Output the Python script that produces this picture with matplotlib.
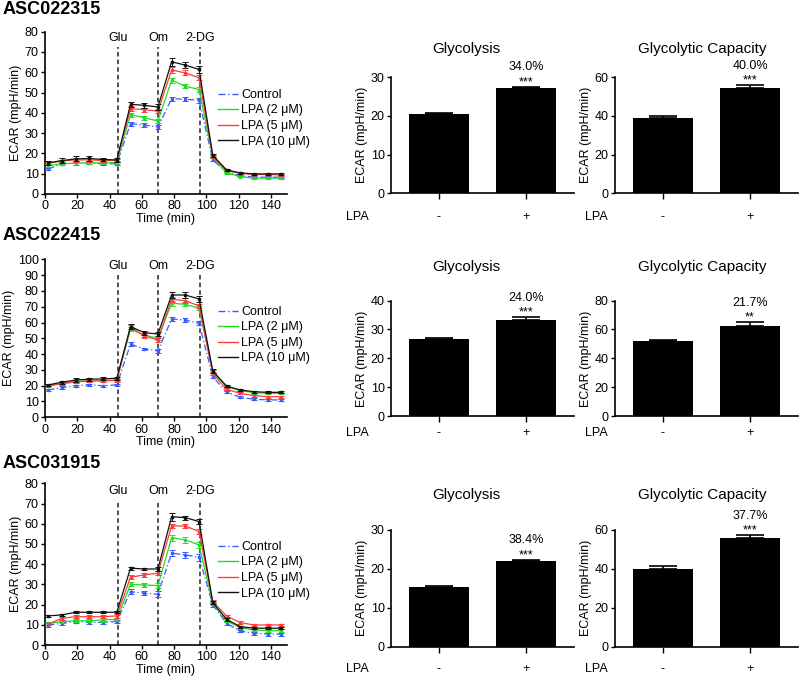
import matplotlib
matplotlib.use("Agg")
import matplotlib.pyplot as plt
from matplotlib.lines import Line2D

plt.rcParams['font.family'] = ['Liberation Sans', 'DejaVu Sans']
plt.rcParams['axes.linewidth'] = 1.2

# ---------------- data ----------------
donors = ["ASC022315", "ASC022415", "ASC031915"]
times = [2, 10.5, 19, 27.5, 36, 44.5, 53, 61.5, 70, 78.5, 87, 95.5, 104, 112.5, 121, 129.5, 138, 146.5]
series_labels = ["Control", "LPA (2 \u03bcM)", "LPA (5 \u03bcM)", "LPA (10 \u03bcM)"]
injections = ["Glu", "Om", "2-DG"]
injection_times = [45, 70, 96]

ctrl_1 = [12.4, 14.9, 15.2, 15.3, 14.9, 14.9, 34.7, 34.0, 33.0, 47.0, 46.7, 46.2, 16.8, 10.7, 9.1, 8.3, 8.3, 8.3]
lpa2_1 = [14.0, 14.9, 15.2, 15.5, 15.3, 15.5, 39.1, 37.6, 36.0, 56.1, 53.1, 51.5, 18.2, 10.4, 8.6, 7.8, 7.8, 7.8]
lpa5_1 = [15.2, 16.2, 16.8, 16.8, 16.5, 16.5, 42.1, 41.6, 40.8, 61.1, 59.7, 57.3, 18.5, 11.6, 10.2, 9.6, 9.6, 9.4]
lpa10_1 = [15.3, 16.5, 17.3, 17.5, 17.0, 16.8, 44.2, 43.7, 42.9, 65.2, 63.5, 61.4, 19.0, 11.9, 10.4, 9.9, 9.9, 9.9]
err_ctrl_1 = [0.6, 0.7, 0.8, 0.7, 0.6, 0.7, 1.0, 0.8, 1.1, 1.0, 0.9, 1.2, 0.7, 0.5, 0.4, 0.4, 0.4, 0.4]
err_lpa2_1 = [0.6, 0.7, 0.7, 0.7, 0.6, 0.7, 1.0, 0.9, 1.0, 1.2, 1.0, 1.1, 0.7, 0.5, 0.4, 0.4, 0.4, 0.4]
err_lpa5_1 = [0.7, 0.8, 0.9, 0.8, 0.7, 0.8, 1.2, 1.0, 1.1, 1.4, 1.2, 1.3, 0.8, 0.5, 0.4, 0.4, 0.4, 0.4]
err_lpa10_1 = [0.8, 1.0, 1.2, 1.1, 0.9, 1.0, 1.3, 1.2, 1.3, 2.0, 1.6, 1.8, 0.9, 0.6, 0.5, 0.5, 0.5, 0.5]

ctrl_2 = [17.3, 18.8, 20.0, 20.5, 20.0, 20.5, 46.4, 43.2, 42.0, 62.2, 61.6, 59.5, 25.7, 15.8, 12.7, 11.4, 11.0, 11.0]
lpa2_2 = [20.0, 21.5, 22.6, 23.2, 23.2, 23.6, 55.7, 52.1, 50.0, 72.2, 71.5, 69.0, 28.9, 19.4, 16.9, 15.6, 15.2, 15.2]
lpa5_2 = [20.0, 21.3, 22.4, 23.0, 23.0, 23.4, 57.0, 51.5, 48.9, 74.7, 73.8, 70.5, 27.8, 17.7, 15.2, 13.7, 13.1, 13.1]
lpa10_2 = [20.5, 22.2, 23.6, 24.1, 24.3, 24.7, 57.4, 53.6, 52.7, 77.4, 77.4, 74.9, 29.3, 19.8, 17.3, 16.2, 15.8, 15.8]
err_ctrl_2 = [0.6, 0.7, 0.7, 0.7, 0.7, 0.8, 1.0, 0.8, 1.0, 1.2, 1.0, 1.2, 0.9, 0.6, 0.6, 0.5, 0.5, 0.5]
err_lpa2_2 = [0.6, 0.7, 0.8, 0.8, 0.8, 0.8, 1.2, 1.0, 1.1, 1.5, 1.2, 1.4, 1.0, 0.7, 0.6, 0.6, 0.6, 0.6]
err_lpa5_2 = [0.7, 0.8, 0.8, 0.8, 0.8, 0.9, 1.3, 1.1, 1.3, 1.7, 1.4, 1.5, 1.0, 0.7, 0.6, 0.6, 0.6, 0.6]
err_lpa10_2 = [0.8, 0.9, 1.0, 1.0, 1.0, 1.1, 1.5, 1.2, 1.5, 2.2, 1.8, 2.0, 1.1, 0.8, 0.7, 0.7, 0.7, 0.7]

ctrl_3 = [9.9, 10.7, 11.6, 11.2, 11.2, 11.6, 26.4, 25.6, 25.1, 45.4, 44.6, 43.4, 19.8, 10.7, 6.9, 5.8, 5.4, 5.4]
lpa2_3 = [10.7, 11.6, 12.0, 12.0, 12.4, 12.7, 30.0, 29.7, 29.4, 53.1, 52.0, 49.5, 20.6, 11.9, 8.6, 7.4, 7.1, 7.1]
lpa5_3 = [10.4, 13.2, 14.0, 14.0, 14.0, 14.4, 33.5, 34.7, 35.5, 58.9, 58.9, 56.1, 21.5, 14.4, 11.1, 9.9, 9.9, 9.9]
lpa10_3 = [14.4, 14.9, 16.2, 16.2, 16.2, 16.2, 38.0, 37.6, 37.6, 63.5, 63.0, 61.1, 21.0, 12.7, 9.1, 8.3, 8.3, 8.3]
err_ctrl_3 = [0.8, 0.8, 0.9, 0.9, 0.8, 0.9, 1.2, 1.1, 1.5, 1.6, 1.5, 1.8, 1.0, 0.8, 0.7, 0.7, 0.7, 0.7]
err_lpa2_3 = [0.7, 0.7, 0.8, 0.8, 0.8, 0.8, 1.0, 1.0, 1.2, 1.4, 1.3, 1.5, 0.9, 0.7, 0.6, 0.6, 0.6, 0.6]
err_lpa5_3 = [0.7, 0.8, 0.8, 0.8, 0.8, 0.8, 1.0, 1.0, 1.1, 1.2, 1.1, 1.3, 0.8, 0.6, 0.6, 0.5, 0.5, 0.5]
err_lpa10_3 = [0.5, 0.5, 0.5, 0.5, 0.5, 0.5, 0.7, 0.7, 0.8, 2.0, 1.0, 1.2, 0.8, 0.6, 0.5, 0.5, 0.5, 0.5]

line_means = [[ctrl_1, lpa2_1, lpa5_1, lpa10_1],
              [ctrl_2, lpa2_2, lpa5_2, lpa10_2],
              [ctrl_3, lpa2_3, lpa5_3, lpa10_3]]
line_errs = [[err_ctrl_1, err_lpa2_1, err_lpa5_1, err_lpa10_1],
             [err_ctrl_2, err_lpa2_2, err_lpa5_2, err_lpa10_2],
             [err_ctrl_3, err_lpa2_3, err_lpa5_3, err_lpa10_3]]
line_ymax = [80, 100, 80]

bar_groups = ["-", "+"]
glyco_ctrl = [20.4, 26.8, 15.3]
glyco_ctrl_err = [0.3, 0.4, 0.4]
glyco_lpa = [27.3, 33.3, 22.0]
glyco_lpa_err = [0.3, 0.9, 0.4]
glyco_pct = ["34.0%", "24.0%", "38.4%"]
glyco_sig = ["***", "***", "***"]
glyco_ymax = [30, 40, 30]

cap_ctrl = [38.8, 51.9, 39.9]
cap_ctrl_err = [1.0, 1.1, 1.4]
cap_lpa = [54.6, 62.7, 55.7]
cap_lpa_err = [1.3, 2.3, 1.7]
cap_pct = ["40.0%", "21.7%", "37.7%"]
cap_sig = ["***", "**", "***"]
cap_ymax = [60, 80, 60]

# ---------------- layout ----------------
W, H = 800, 680
fig = plt.figure(figsize=(W / 100, H / 100), dpi=100)

def add_ax(l, t, r, b):
    return fig.add_axes([l / W, 1 - b / H, (r - l) / W, (b - t) / H])

colors = ["#3a5cff", "#22dd22", "#ff3b3b", "#111111"]
styles = [(0, (5, 2, 1, 2)), "-", "-", "-"]

line_boxes = [(45, 31.7, 287, 194), (45, 259.3, 287, 417.3), (45, 483.3, 287, 645)]
title_y = [10, 235, 463]
legend_top = [89, 306, 541]
vline_top = [72.5, 90, 71.7]

FS = 9
TICK = 9

for i in range(3):
    l, t, r, b = line_boxes[i]
    ax = add_ax(l, t, r, b)
    for j in range(4):
        ax.errorbar(times, line_means[i][j], yerr=line_errs[i][j], color=colors[j],
                    linestyle=styles[j], linewidth=0.9, marker="s", markersize=2,
                    capsize=2, elinewidth=0.7, capthick=0.7, zorder=3 + j)
    ax.set_xlim(0, 150)
    ax.set_ylim(0, line_ymax[i])
    ax.set_xticks(range(0, 141, 20))
    ax.set_yticks(range(0, line_ymax[i] + 1, 10))
    ax.spines['top'].set_visible(False)
    ax.spines['right'].set_visible(False)
    ax.tick_params(direction='out', length=3, width=1.0, pad=1.5, labelsize=TICK)
    ax.set_ylabel("ECAR (mpH/min)", fontsize=FS, labelpad=2)
    ax.set_xlabel("Time (min)", fontsize=FS, labelpad=0.5)
    for name, xt in zip(injections, injection_times):
        ax.vlines(xt, 0, vline_top[i], colors="#222222", linestyles=(0, (3, 2)), linewidth=1.1, zorder=2)
        ax.text(xt, vline_top[i] + 0.02 * line_ymax[i], name, ha="center", va="bottom", fontsize=FS)
    fig.text(3 / W, 1 - title_y[i] / H, donors[i], fontsize=13, fontweight="bold", ha="left", va="center")
    handles = [Line2D([0], [0], color=colors[j], linestyle=styles[j], linewidth=1.0) for j in range(4)]
    ax.legend(handles, series_labels, loc="upper left", bbox_to_anchor=(218 / W, 1 - legend_top[i] / H),
              bbox_transform=fig.transFigure, frameon=False, fontsize=FS, handlelength=1.6,
              handletextpad=0.25, borderpad=0, borderaxespad=0, labelspacing=0.28)

bar_rows = [(77.3, 193.3), (300.5, 416.3), (530, 646.7)]
bar_lefts = [391, 615]
bar_titles = ["Glycolysis", "Glycolytic Capacity"]
title_x = [466, 702]
bar_title_y = [49, 267, 495]
lpa_x = [346, 585]
tick_pads = [9, 4, 8]

panel_data = [
    (glyco_ctrl, glyco_ctrl_err, glyco_lpa, glyco_lpa_err, glyco_pct, glyco_sig, glyco_ymax),
    (cap_ctrl, cap_ctrl_err, cap_lpa, cap_lpa_err, cap_pct, cap_sig, cap_ymax),
]

for i in range(3):
    t, b = bar_rows[i]
    for p in range(2):
        c, ce, lp, le, pct, sig, ymax = panel_data[p]
        l = bar_lefts[p]
        ax = add_ax(l, t, l + 183, b)
        vals = [c[i], lp[i]]
        errs = [ce[i], le[i]]
        xs = range(len(bar_groups))
        ax.bar(xs, vals, width=0.68, color="black", zorder=2)
        ax.errorbar(xs, vals, yerr=[[0, 0], errs], fmt="none", ecolor="black",
                    capsize=10, elinewidth=1.2, capthick=1.2, zorder=1)
        ax.set_xlim(-0.55, 1.55)
        ax.set_ylim(0, ymax[i])
        ax.set_xticks(list(xs))
        ax.set_xticklabels(bar_groups)
        step = 10 if p == 0 else 20
        ax.set_yticks(range(0, ymax[i] + 1, step))
        ax.spines['top'].set_visible(False)
        ax.spines['right'].set_visible(False)
        ax.tick_params(axis='y', direction='out', length=3, width=1.0, pad=1.5, labelsize=TICK)
        ax.tick_params(axis='x', direction='out', length=4, width=1.0, pad=tick_pads[i], labelsize=FS)
        ax.set_ylabel("ECAR (mpH/min)", fontsize=FS, labelpad=2)
        top = vals[1] + errs[1]
        ax.annotate(sig[i], (1, top), xytext=(0, 1), textcoords="offset points",
                    ha="center", va="baseline", fontsize=FS, annotation_clip=False)
        ax.annotate(pct[i], (1, top), xytext=(0, 14), textcoords="offset points",
                    ha="center", va="center", fontsize=FS, annotation_clip=False)
        fig.text(title_x[p] / W, 1 - bar_title_y[i] / H, bar_titles[p], ha="center", va="center", fontsize=11)
        ax.annotate("LPA", xy=(lpa_x[p] / W, 0), xycoords=("figure fraction", "axes fraction"),
                    xytext=(0, -(4 + tick_pads[i])), textcoords="offset points",
                    ha="left", va="top", fontsize=FS, annotation_clip=False)

fig.savefig("out.png", dpi=100)
